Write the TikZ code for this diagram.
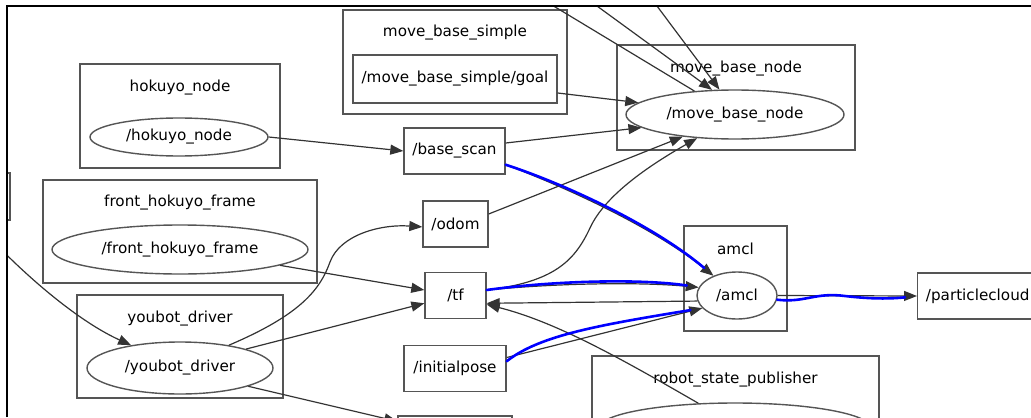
\documentclass[tikz,border=0pt]{standalone}
\usepackage{fontspec}
\setmainfont{DejaVu Sans}
\usepackage{xcolor}
\usepackage{tikz}
\usetikzlibrary{
    arrows.meta,
    positioning,
    shapes.geometric,
}

\definecolor{boxgray}{HTML}{555555}
\definecolor{edgegray}{HTML}{333333}
\newcommand{\gfont}{\fontsize{7.6}{9}\selectfont}

\begin{document}
\begin{tikzpicture}[
        x=0.5pt, y=-0.5pt,
        >={Triangle[length=6.5pt, width=5pt]},
        cluster/.style={
            rectangle, draw=boxgray, line width=0.7pt, inner sep=0pt
        },
        topic/.style={
            rectangle, draw=boxgray, line width=0.7pt, fill=white,
            minimum height=23pt, inner xsep=4pt, font=\gfont, text=black
        },
        proc/.style={
            ellipse, draw=boxgray, line width=0.7pt, fill=white,
            inner sep=0pt, font=\gfont, text=black
        },
        title/.style={font=\gfont, text=black},
        edge/.style={->, edgegray, line width=0.6pt},
        hl/.style={blue, line width=1.3pt, line cap=round},
    ]

    \useasboundingbox (0,0) rectangle (1031,417);
    \begin{scope}
    \clip (7,6) rectangle (1031,417);

    % ── Clusters ──
    \node[cluster, minimum width=112pt, minimum height=52pt] (simpleC) at (455,62) {};
    \node[cluster, minimum width=100pt, minimum height=52pt] (hokuyoC) at (180,116) {};
    \node[cluster, minimum width=119pt, minimum height=52.5pt] (mbnodeC) at (736,97.5) {};
    \node[cluster, minimum width=137pt, minimum height=51.5pt] (frontC) at (180,231.5) {};
    \node[cluster, minimum width=103pt, minimum height=51.5pt] (youbotC) at (180,346.5) {};
    \node[cluster, minimum width=51.5pt, minimum height=52.5pt] (amclC) at (735.5,278.5) {};
    \node[cluster, minimum width=143.5pt, minimum height=60pt] (rspC) at (735.5,416) {};
    \node[cluster, minimum width=10pt, minimum height=23.5pt] (leftC) at (0,196.5) {};

    % ── Cluster titles ──
    \node[title] (simpleT) at ([yshift=-11.5pt]simpleC.north) {move\_base\_simple};
    \node[title] (hokuyoT) at ([yshift=-12pt]hokuyoC.north) {hokuyo\_node};
    \node[title] (mbnodeT) at ([yshift=-12pt]mbnodeC.north) {move\_base\_node};
    \node[title] (frontT) at ([yshift=-11.5pt]frontC.north) {front\_hokuyo\_frame};
    \node[title] (youbotT) at ([yshift=-12pt]youbotC.north) {youbot\_driver};
    \node[title] (amclT) at ([yshift=-12pt]amclC.north) {amcl};
    \node[title] (rspT) at ([yshift=-12pt]rspC.north) {robot\_state\_publisher};

    % ── Nodes ──
    \node[proc, minimum width=89pt, minimum height=19pt] (hokuyo) at (179,137) {/hokuyo\_node};
    \node[proc, minimum width=109pt, minimum height=24.5pt] (mbnode) at (735,114.5) {/move\_base\_node};
    \node[proc, minimum width=128pt, minimum height=24.5pt] (front) at (180,249.5) {/front\_hokuyo\_frame};
    \node[proc, minimum width=93pt, minimum height=26pt] (youbot) at (180,368) {/youbot\_driver};
    \node[proc, minimum width=40pt, minimum height=23.5pt] (amcl) at (737,295.5) {/amcl};
    \node[proc, minimum width=136pt, minimum height=25pt] (rsp) at (735,428) {};

    % ── Topics ──
    \node[topic, minimum width=102pt, minimum height=24pt] (goal) at (455,79) {/move\_base\_simple/goal};
    \node[topic, minimum width=50.5pt] (basescan) at (454.5,151) {/base\_scan};
    \node[topic, minimum width=32.5pt] (odom) at (455.5,224) {/odom};
    \node[topic, minimum width=30.5pt] (tf) at (455.5,295.5) {/tf};
    \node[topic, minimum width=51pt] (initpose) at (455,368.5) {/initialpose};
    \node[topic, minimum width=60pt, anchor=west] (pcloud) at (917,296) {/particlecloud};
    \node[topic, minimum width=57pt] (botbox) at (455,439) {};

    % ── Loose ends ──
    \coordinate (outA) at (527,-10);
    \coordinate (inB) at (575,-10);
    \coordinate (inC) at (645,-10);
    \coordinate (inL) at (-10,238);

    % ── Arrows ──
    \draw[edge] (hokuyo.east) -- (basescan.west);
    \draw[edge] ([yshift=-7pt]goal.east) -- (mbnode.173);
    \draw[edge] ([yshift=4pt]basescan.east) -- (mbnode.188);
    \draw[edge] ([yshift=5pt]odom.east) -- (mbnode.203);
    \draw[edge] (tf.10) .. controls (555,282) and (575,260) .. (590,228)
        .. controls (605,195) and (650,165) .. (mbnode.212);
    \draw[edge] (mbnode.150) -- (outA);
    \draw[edge] (inB) -- (mbnode.133);
    \draw[edge] (inC) -- (mbnode.122);
    \draw[edge] (basescan.-15) .. controls (560,185) and (650,225) .. (amcl.140);
    \draw[edge] (tf.10) .. controls (560,283) and (640,282) .. (amcl.168);
    \draw[edge] (amcl.188) -- (tf.-14);
    \draw[edge] (rsp.146) .. controls (620,358) and (556,322) .. (tf.-16);
    \draw[edge] (initpose.12) -- (amcl.200);
    \draw[edge] (amcl.east) -- (pcloud.west);
    \draw[edge] (front.-9) -- (tf.170);
    \draw[edge] (youbot.16) -- (tf.194);
    \draw[edge] (youbot.25) .. controls (300,315) and (320,290) .. (330,262)
        .. controls (340,235) and (380,224) .. (odom.185);
    \draw[edge] (inL) .. controls (30,280) and (80,322) .. (youbot.155);
    \draw[edge] (youbot.-15) -- (botbox.163);

    % ── Blue marks ──
    \draw[hl, shorten >=6pt] (basescan.-15) .. controls (562,183) and (652,224) .. (amcl.140);
    \draw[hl, shorten >=6pt] (tf.10) .. controls (560,280) and (645,279) .. (amcl.168);
    \draw[hl, shorten >=6pt] (initpose.8) .. controls (540,335) and (600,325) .. (amcl.200);
    \draw[hl, shorten >=6pt] (amcl.-6) .. controls (805,303) and (815,292) .. (845,296)
        .. controls (870,299) and (890,299) .. (pcloud.west);
    \end{scope}

    % ── Frame ──
    \draw[line width=1pt] (7,417) -- (7,6) -- (1031,6);

    \end{tikzpicture}
\end{document}
